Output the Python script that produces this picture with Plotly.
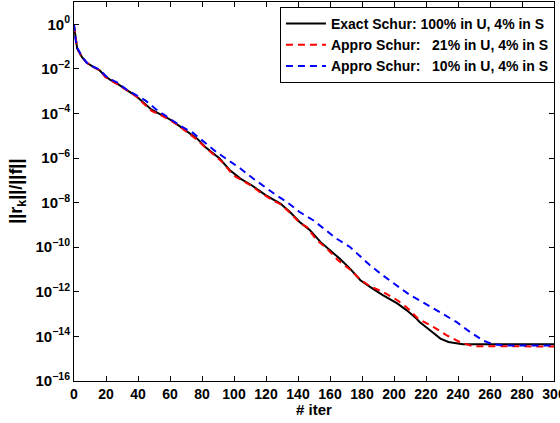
import plotly.graph_objects as go

# iteration numbers and log10 of relative residual
exact_iter = [0, 1, 2, 5, 8, 12, 16, 19.5, 22.5, 27, 33, 39, 43, 48.5, 54, 60, 66, 72.5, 77, 82,
              91, 97.5, 104, 111, 120, 129, 135, 141, 147.5, 154, 160, 166, 172.5, 179, 185, 193,
              202, 208, 214, 216, 222.5, 229, 234, 243, 300]
exact_log = [-0.05, -0.7, -1.09, -1.47, -1.73, -1.91, -2.06, -2.33, -2.48, -2.66, -2.96, -3.23,
             -3.48, -3.83, -4.04, -4.27, -4.57, -4.88, -5.13, -5.5, -6.02, -6.55, -6.92, -7.22,
             -7.67, -8.04, -8.42, -8.87, -9.24, -9.76, -10.13, -10.51, -10.96, -11.48, -11.78,
             -12.15, -12.52, -12.83, -13.2, -13.35, -13.72, -14.1, -14.25, -14.35, -14.35]

appro21_iter = [0, 1, 2, 5, 8, 12, 16, 19.5, 23, 27, 33, 39, 43, 48.5, 54, 60, 66, 72.5, 77, 82,
                87, 92.5, 99.5, 104, 111, 116, 122.5, 129, 135, 141, 145.5, 151.5, 158, 165,
                172.5, 179, 185, 193, 202.5, 208, 215, 224.5, 233, 241, 249.5, 300]
appro21_log = [-0.05, -0.7, -1.09, -1.47, -1.73, -1.91, -2.06, -2.36, -2.53, -2.68, -2.98, -3.24,
               -3.52, -3.88, -4.07, -4.29, -4.58, -4.92, -5.18, -5.52, -5.85, -6.17, -6.77, -6.95,
               -7.25, -7.52, -7.82, -8.07, -8.45, -8.9, -9.09, -9.66, -10.06, -10.58, -11.0,
               -11.45, -11.75, -12.0, -12.4, -12.7, -13.2, -13.57, -13.95, -14.25, -14.44, -14.45]

appro10_iter = [0, 1, 2, 5, 8, 12, 16, 20, 23, 27.5, 33, 39, 44.5, 51, 58, 67, 74, 81, 89, 96.5,
                104, 112, 118.5, 126.5, 133, 141, 149.5, 157, 164, 172.5, 179, 185, 193, 201.5,
                210, 216, 224.5, 232, 239, 247.5, 256, 262, 270, 300]
appro10_log = [0.0, -0.7, -1.05, -1.45, -1.72, -1.9, -2.04, -2.33, -2.47, -2.63, -2.94, -3.2,
               -3.41, -3.8, -4.15, -4.58, -4.85, -5.28, -5.73, -6.1, -6.47, -6.92, -7.26, -7.67,
               -7.97, -8.42, -8.79, -9.2, -9.61, -9.99, -10.43, -10.81, -11.26, -11.7, -12.15,
               -12.38, -12.75, -13.05, -13.35, -13.8, -14.2, -14.35, -14.41, -14.41]

series_names = ["Exact Schur: 100% in U, 4% in S",
                "Appro Schur:\u00a0\u00a0\u00a021% in U, 4% in S",
                "Appro Schur:\u00a0\u00a0\u00a010% in U, 4% in S"]

x_ticks = list(range(0, 301, 20))
y_exponents = [0, -2, -4, -6, -8, -10, -12, -14, -16]
x_title = "# iter"
y_title = "||r<sub>k</sub>||/||f||"

FONT = "Liberation Sans, Arial, Helvetica, sans-serif"

fig = go.Figure()
fig.add_trace(go.Scatter(x=exact_iter, y=[10 ** v for v in exact_log], mode="lines",
                         name=series_names[0], line=dict(color="black", width=2)))
fig.add_trace(go.Scatter(x=appro21_iter, y=[10 ** v for v in appro21_log], mode="lines",
                         name=series_names[1], line=dict(color="#ff0000", width=2, dash="7px,5px")))
fig.add_trace(go.Scatter(x=appro10_iter, y=[10 ** v for v in appro10_log], mode="lines",
                         name=series_names[2], line=dict(color="#0000ff", width=2, dash="7px,5px")))

fig.update_layout(
    width=560, height=423,
    margin=dict(l=74, r=6, t=2, b=42, autoexpand=False),
    paper_bgcolor="white", plot_bgcolor="white",
    font=dict(family=FONT, size=13, color="black", weight="bold"),
    showlegend=True,
    legend=dict(x=1.002, xanchor="right", y=0.987, yanchor="top",
                bgcolor="white", bordercolor="black", borderwidth=1,
                font=dict(family=FONT, size=14, color="black", weight="bold"),
                tracegroupgap=0, itemwidth=40),
    annotations=[
        dict(text=x_title, xref="paper", yref="paper", x=0.5, y=-0.0475, yanchor="top",
             showarrow=False, font=dict(family=FONT, size=15, color="black", weight="bold")),
        dict(text=y_title, xref="paper", yref="paper", x=-0.118, y=0.5, textangle=-90,
             xanchor="center", yanchor="middle",
             showarrow=False, font=dict(family=FONT, size=18, color="black", weight="bold")),
    ],
)

fig.update_xaxes(
    range=[0, 300], tickmode="array", tickvals=x_ticks, ticktext=[str(t) for t in x_ticks],
    ticks="inside", ticklen=5, tickwidth=1, tickcolor="black",
    showline=True, linecolor="black", linewidth=1, mirror="ticks",
    showgrid=False, zeroline=False, automargin=False, ticklabeloverflow="allow",
    tickfont=dict(family=FONT, size=14, color="black", weight="bold"),
)

fig.update_yaxes(
    type="log", range=[-16, 1],
    tickmode="array", tickvals=[10.0 ** e for e in y_exponents],
    ticktext=["10<sup>%s</sup>" % (str(e).replace("-", "\u2212")) for e in y_exponents],
    ticks="inside", ticklen=5, tickwidth=1, tickcolor="black",
    showline=True, linecolor="black", linewidth=1, mirror="ticks",
    showgrid=False, zeroline=False, automargin=False, ticklabeloverflow="allow",
    tickfont=dict(family=FONT, size=15, color="black", weight="bold"),
)

fig.write_html("out.html", config={"displayModeBar": False},
               post_script="document.body.style.margin='0';document.body.style.overflow='hidden';")
